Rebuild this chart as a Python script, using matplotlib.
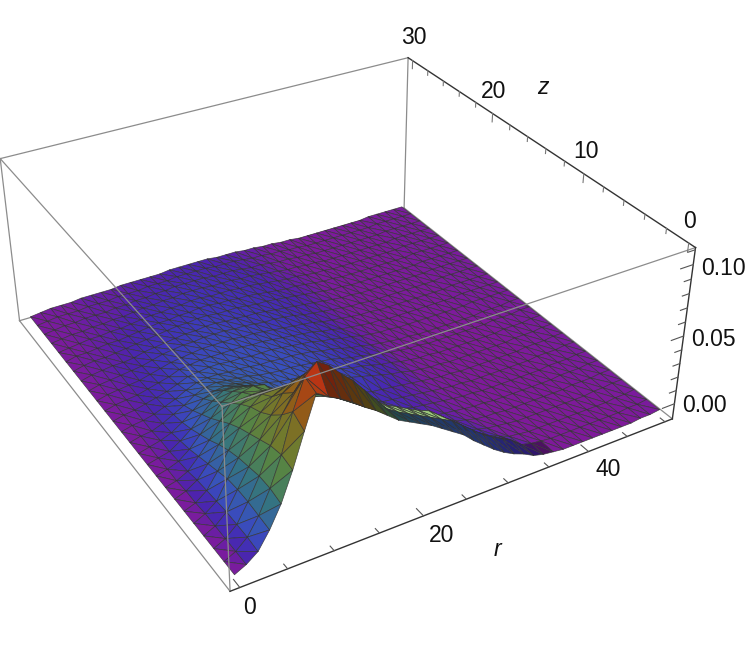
import numpy as np, matplotlib
matplotlib.use('Agg')
import matplotlib.pyplot as plt
from matplotlib.colors import LinearSegmentedColormap, Normalize, to_rgba
import matplotlib.tri as mtri

plt.rcParams['font.family'] = ['Liberation Sans', 'DejaVu Sans']

# Radial coordinate r and axial coordinate z of the sampled surface
r_values = [1.25 * i for i in range(41)]
z_values = [1.25 * i for i in range(25)]

# Surface height in thousandths, one list per z row; columns r = 0 .. 32.5, then tails r = 33.75 .. 50
tail_a = [-4,-6,-7,-8,-8,-8,-8,-8,-8,-8,-8,-7,-7,-6]
tail_b = [-6,-7,-8,-8,-8,-8,-8,-8,-8,-8,-8,-7,-7,-6]
tail_c = [-6,-7,-8,-8,-8,-8,-8,-8,-8,-8,-7,-7,-6,-6]
tail_d = [-7,-7,-8,-8,-8,-8,-8,-8,-8,-7,-7,-7,-6,-6]
tail_e = [-6,-7,-7,-7,-7,-7,-7,-7,-7,-6,-6,-6,-6,-6]
h_rows = [
 [-7,-3,3,15,30,50,73,95,90,86,81,75,70,64,58,54,50,46,41,36,31,24,18,12,7,3,0] + tail_a,
 [-7,-3,4,16,32,52,78,98,105,100,92,85,76,67,58,53,49,45,41,37,33,27,21,15,10,6,2] + tail_a,
 [-7,-3,4,17,32,50,68,80,90,92,87,80,71,63,56,50,46,42,38,35,29,23,16,10,5,0,-3] + tail_b,
 [-7,-3,4,17,30,46,60,72,78,76,70,62,55,50,44,39,34,29,25,21,17,12,8,3,-1,-3,-5] + tail_c,
 [-7,-3,3,16,28,42,54,62,66,62,57,53,49,44,39,34,29,23,18,14,10,6,2,0,-2,-4,-6] + tail_d,
 [-7,-4,2,13,25,38,50,56,57,52,48,46,44,39,34,29,24,19,14,9,5,1,-2,-3,-4,-5,-6] + tail_d,
 [-7,-4,1,10,21,33,44,48,48,44,38,36,33,31,29,24,19,14,10,6,2,0,-2,-3,-4,-5,-6] + tail_d,
 [-7,-5,-1,7,16,27,37,42,44,42,32,28,26,24,23,18,14,10,6,3,0,-1,-2,-3,-4,-5,-6] + tail_d,
 [-7,-5,-2,4,12,21,30,35,36,32,26,22,19,17,15,12,10,7,4,2,0,-1,-2,-3,-4,-5,-6] + tail_d,
 [-7,-5,-3,2,8,16,23,28,28,26,22,18,15,12,11,10,9,8,7,6,4,2,0,-2,-3,-5,-6] + tail_d,
 [-7,-5,-3,0,5,11,17,20,21,20,18,15,13,11,10,9,9,8,7,5,3,2,0,-2,-3,-5,-6] + tail_d,
 [-7,-5,-4,-1,3,7,12,15,16,15,14,13,11,10,9,9,8,7,6,5,3,1,0,-2,-3,-5,-6] + tail_d,
 [-7,-5,-4,-2,1,4,8,11,12,12,11,11,10,9,9,8,8,7,6,4,3,1,-1,-2,-4,-5,-6] + tail_d,
 [-7,-5,-4,-2,0,2,5,8,9,10,10,9,9,8,8,8,7,6,5,4,2,1,-1,-2,-4,-5,-6] + tail_e,
 [-7,-5,-4,-3,-1,1,3,6,7,8,8,8,8,8,7,7,6,5,4,3,2,0,-1,-3,-4,-5,-6] + tail_e,
 [-7,-5,-4,-3,-2,0,2,4,5,6,7,7,7,7,6,6,5,4,3,2,1,0,-2,-3,-4,-5,-6] + tail_e,
 [-7,-5,-4,-3,-2,-1,1,3,4,5,5,6,6,6,5,5,4,3,3,2,1,-1,-2,-3,-4,-5,-6] + tail_e,
 [-7,-5,-4,-3,-3,-2,0,1,2,3,4,4,5,5,4,4,3,3,2,1,0,-1,-2,-3,-4,-5,-6] + tail_e,
 [-7,-5,-4,-4,-3,-2,-1,0,1,2,3,3,4,4,3,3,3,2,1,1,0,-1,-2,-3,-4,-5,-6] + tail_e,
 [-7,-5,-5,-4,-3,-3,-2,-1,0,1,1,2,2,3,3,2,2,1,1,0,-1,-2,-3,-3,-4,-5,-6] + tail_e,
 [-7,-6,-5,-4,-4,-3,-3,-2,-1,0,0,1,1,2,2,1,1,1,0,0,-1,-2,-3,-4,-4,-5,-6] + tail_e,
 [-7,-6,-5,-5,-4,-4,-3,-3,-2,-1,-1,0,0,1,1,1,0,0,0,-1,-1,-2,-3,-4,-5,-5,-6] + tail_e,
 [-7,-6,-5,-5,-4,-4,-4,-3,-3,-2,-2,-1,-1,0,0,0,0,-1,-1,-1,-2,-3,-3,-4,-5,-5,-6] + tail_e,
 [-7,-6,-5,-5,-5,-4,-4,-4,-3,-3,-3,-2,-2,-2,-1,-1,-1,-1,-2,-2,-2,-3,-4,-4,-5,-5,-6] + tail_e,
 [-7,-6,-5,-5,-5,-4,-4,-4,-4,-3,-3,-3,-3,-3,-2,-2,-2,-2,-2,-3,-3,-3,-4,-4,-5,-5,-6] + tail_e,
]

# Colour level of the shaded strip along the z = 0 edge (r = 15 .. 33.75), which reads darker than its height
strip_row0 = [62,46,30,24,20,18,16,14,13,12,10,8,6,4,2,0]
strip_row1 = [60,44,30,24,20,18,16,14,13,12,10,8,6,4,2,0]
strip_columns = list(range(8, 29))                # r-index of the dark faces under the ridge
strip_shade = 0.62
band_columns = [14, 15, 16, 17, 18, 19, 20, 21]   # r-index of the light green band on the crest

r_major, r_minor = [0, 20, 40], [5, 10, 15, 25, 30, 35, 45, 50]
z_major, z_minor = [0, 10, 20, 30], [2, 4, 6, 8, 12, 14, 16, 18, 22, 24, 26, 28]
h_major, h_minor = [0.00, 0.05, 0.10], [0.01, 0.02, 0.03, 0.04, 0.06, 0.07, 0.08, 0.09, 0.11]

R_LIM, Z_LIM, H_LIM = (-1, 51), (-0.6, 30.6), (-0.0115, 0.1115)

fig = plt.figure(figsize=(7.47, 6.48), dpi=100)
W = 700.98
ax = fig.add_axes([-28.34 / 747, 1 - (-54.08 + W) / 648, W / 747, W / 648], projection='3d')
ax.set_axis_off()
ax.patch.set_visible(False)
ax.computed_zorder = False
ax.set_xlim(R_LIM); ax.set_ylim(Z_LIM); ax.set_zlim(H_LIM)
ax.view_init(32.013, -120.357)
ax.set_proj_type('persp', focal_length=0.437)
ax.set_box_aspect((1, 1.0035, 0.4002))

cmap = LinearSegmentedColormap.from_list('dark_rainbow', [
    (0.00, (0.50, 0.10, 0.60)), (0.03, (0.47, 0.11, 0.62)), (0.06, (0.30, 0.14, 0.68)),
    (0.10, (0.25, 0.20, 0.72)), (0.16, (0.22, 0.32, 0.74)), (0.30, (0.20, 0.45, 0.52)),
    (0.46, (0.33, 0.52, 0.28)), (0.60, (0.44, 0.48, 0.18)), (0.78, (0.55, 0.38, 0.10)),
    (0.90, (0.68, 0.25, 0.08)), (1.00, (0.80, 0.14, 0.08))])
norm = Normalize(-0.009, 0.105)

RR, ZZ = np.meshgrid(r_values, z_values)
HH = np.array(h_rows, dtype=float) / 1000
nz, nr = HH.shape
CC = HH.copy()
CC[0, 12:28] = np.array(strip_row0) / 1000
CC[1, 12:28] = np.array(strip_row1) / 1000
tris = []
for j in range(nz - 1):
    for i in range(nr - 1):
        a, b, c, d = j*nr+i, j*nr+i+1, (j+1)*nr+i+1, (j+1)*nr+i
        tris += [[a, b, d], [b, c, d]]
tris = np.array(tris)
tri = mtri.Triangulation(RR.ravel(), ZZ.ravel(), tris)
rgba = cmap(norm(CC.ravel()[tris].mean(axis=1)))
for i in strip_columns:
    rgba[2 * i:2 * i + 2, :3] *= strip_shade
band = to_rgba('#9ecb7c')
for i in band_columns:
    rgba[2 * ((nr - 1) * 1 + i)] = band
    rgba[2 * ((nr - 1) * 1 + i) + 1] = band
surf = ax.plot_trisurf(tri, HH.ravel(), color='white', shade=False,
                       edgecolor=(0.2, 0.2, 0.2, 0.85), linewidth=0.5, zorder=2, antialiased=True)
surf.set_facecolor(rgba)

r0, r1 = R_LIM; z0, z1 = Z_LIM; h0, h1 = H_LIM
GRAY, DARK = '#8c8c8c', '#333333'
def seg(p, q, color=GRAY, lw=0.9, zo=3):
    ax.plot([p[0], q[0]], [p[1], q[1]], [p[2], q[2]], color=color, lw=lw, zorder=zo, clip_on=False)

# box edges behind the surface
seg((r1, z1, h0), (r1, z1, h1), zo=1)
seg((r1, z1, h0), (r0, z1, h0), zo=1)
seg((r1, z1, h0), (r1, z0, h0), zo=1)
# box edges in front of the surface
seg((r0, z0, h0), (r0, z0, h1))
seg((r0, z0, h1), (r1, z0, h1))
seg((r0, z0, h1), (r0, z1, h1))
seg((r0, z1, h1), (r1, z1, h1))
seg((r0, z1, h0), (r0, z1, h1))
seg((r0, z0, h0), (r0, z1, h0))
# the three axis edges
seg((r0, z0, h0), (r1, z0, h0), DARK, 1.0)
seg((r1, z0, h1), (r1, z1, h1), DARK, 1.0)
seg((r1, z0, h0), (r1, z0, h1), DARK, 1.0)

for vals, L in ((r_major, 0.75), (r_minor, 0.45)):
    for v in vals:
        seg((v, z0, h0), (v, z0 + L, h0), '#555555', 0.8)
for vals, L in ((z_major, 0.0062), (z_minor, 0.0035)):
    for v in vals:
        seg((r1, v, h1), (r1, v, h1 - L), '#777777', 0.8)
for vals, L in ((h_major, 1.6), (h_minor, 0.9)):
    for v in vals:
        seg((r1, z0, v), (r1 - L, z0, v), '#555555', 0.8)

def label(x, y, s, **kw):
    fig.text(x / 747, 1 - y / 648, s, ha='center', va='center', fontsize=16.5, color='#111111', **kw)

for x, y, s in [(250, 607, '0'), (442, 535, '20'), (608, 470, '40'),
                (690, 221, '0'), (586, 152, '10'), (494, 92, '20'), (414, 38, '30'),
                (704, 406, '0.00'), (713, 339, '0.05'), (723, 268, '0.10')]:
    label(x, y, s)
label(543, 88, 'z', style='italic')
label(497, 549, 'r', style='italic')

fig.savefig('out.png', dpi=100)
